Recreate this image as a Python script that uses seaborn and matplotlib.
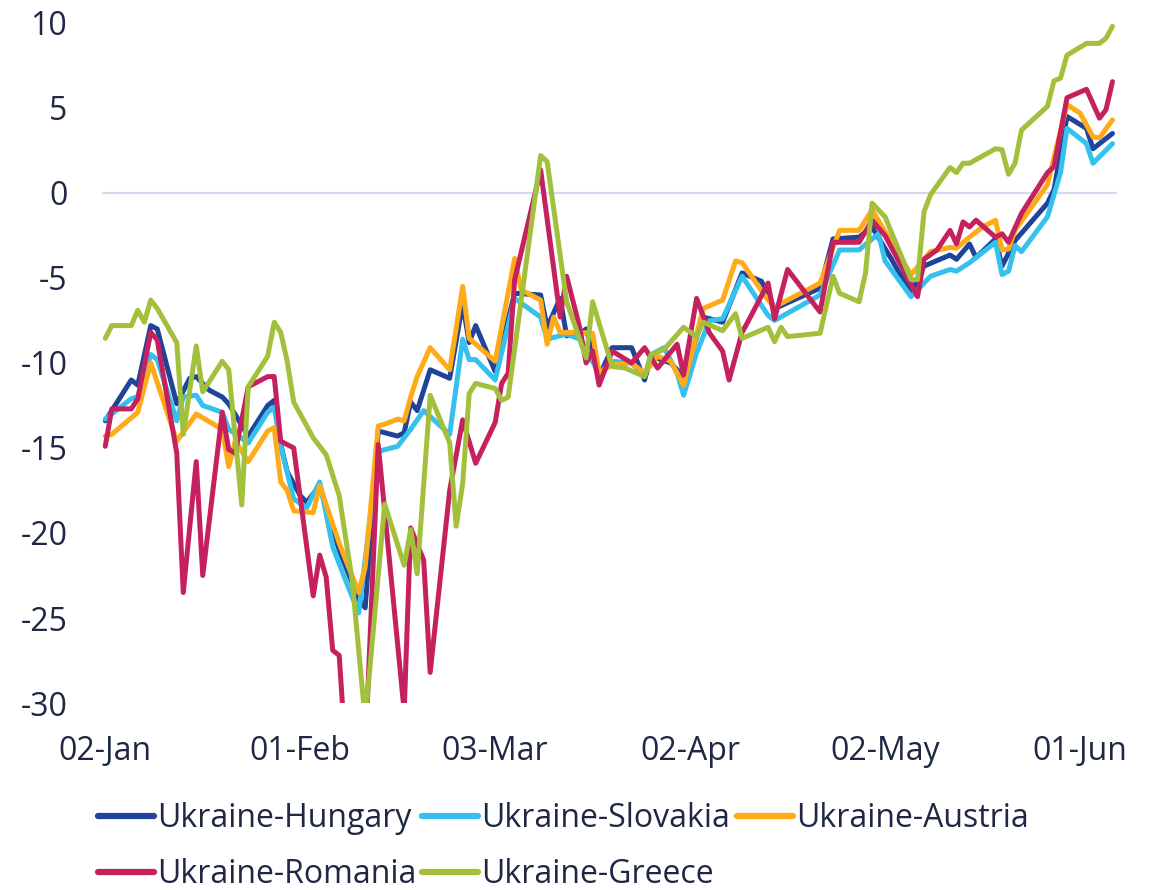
import matplotlib
matplotlib.use("Agg")
import matplotlib.pyplot as plt
import seaborn as sns
import pandas as pd

# ---------------- data (day offsets from 02-Jan-2023, values) ----------------
start_date = "2023-01-02"

hungary_days = [0, 4, 5, 7, 8, 11, 13, 14, 16, 18, 19, 22, 25, 26, 27, 28, 30, 31, 33, 36, 39, 40,
                42, 45, 46, 47, 48, 50, 53, 55, 56, 57, 60, 63, 67, 68, 70, 71, 73, 74, 76, 78, 81,
                83, 84, 87, 89, 92, 95, 98, 101, 103, 110, 112, 116, 118, 121, 124, 126, 130, 131,
                133, 134, 137, 138, 140, 145, 146, 148, 151, 152, 155]
hungary_vals = [-13.4, -11.0, -11.3, -7.8, -8.0, -12.4, -10.9, -10.8, -11.6, -12.0, -12.4, -14.3,
                -12.5, -12.2, -14.8, -16.4, -17.8, -18.2, -17.2, -21.0, -23.9, -24.4,
                -14.0, -14.3, -14.1, -12.3, -12.8, -10.4, -10.9, -6.5, -8.8, -7.8, -10.5, -5.9,
                -6.0, -7.9, -6.2, -8.4, -8.3, -8.0, -10.8, -9.1, -9.1,
                -11.0, -9.6, -10.0, -10.8, -7.3, -7.6, -4.7, -5.2, -6.8, -5.6, -2.7, -2.6, -2.0,
                -3.9, -5.9, -4.3, -3.65, -3.9,
                -3.0, -3.8, -2.7, -4.3, -2.8, -0.6, 0.2, 4.5, 3.8, 2.6, 3.5]

slovakia_days = [0, 4, 5, 7, 8, 11, 12, 14, 15, 18, 19, 22, 25, 26, 27, 29, 31, 33, 35, 37, 39,
                 42, 45, 47, 49, 53, 55, 56, 57, 60, 63, 67, 68, 71, 73, 76, 78, 81, 83, 84, 86,
                 88, 89, 91, 93, 95, 98, 102, 103, 110, 113, 116, 119, 120, 124, 127, 130, 131,
                 133, 137, 138, 139, 140, 141, 145, 147, 148, 151, 152, 155]
slovakia_vals = [-13.3, -12.1, -12.0, -9.5, -9.8, -13.4, -12.0, -11.9, -12.5, -12.9, -13.9, -14.7,
                 -12.9, -12.6, -14.9, -18.0, -18.5, -17.0, -20.8, -22.8, -24.7,
                 -15.2, -14.9, -13.9, -12.8, -14.2, -8.6, -9.8, -9.8, -11.0, -6.2, -7.3, -8.6,
                 -8.3, -8.6, -10.6, -9.9, -10.0, -10.8, -9.5, -9.1,
                 -10.6, -11.9, -9.4, -7.5, -7.4, -4.9, -7.2, -7.5, -6.0, -3.35, -3.35, -2.4, -4.0,
                 -6.1, -4.9, -4.5, -4.6,
                 -4.1, -2.9, -4.8, -4.6, -3.1, -3.45, -1.4, 1.2, 3.8, 2.9, 1.75, 2.9]

austria_days = [0, 1, 5, 7, 11, 14, 18, 19, 20, 22, 25, 26, 27, 28, 29, 32, 33, 36, 39, 40, 42,
                43, 45, 46, 47, 48, 50, 53, 55, 56, 60, 63, 64, 67, 68, 69, 70, 73, 75, 76, 78,
                81, 83, 85, 87, 89, 92, 95, 97, 98, 102, 103, 110, 113, 116, 118, 124, 127, 130,
                131, 133, 135, 137, 138, 139, 140, 145, 148, 150, 152, 153, 155]
austria_vals = [-14.3, -14.2, -12.9, -10.0, -14.6, -13.0, -13.9, -16.1, -14.6, -15.8, -14.0, -13.8,
                -17.0, -17.5, -18.7, -18.8, -17.2, -20.6, -23.5, -22.0, -13.7,
                -13.6, -13.3, -13.4, -12.0, -10.8, -9.1, -10.4, -5.5, -8.55, -9.9, -3.85, -5.7,
                -6.3, -8.9, -7.3, -8.2, -8.2, -8.25, -10.6, -10.1,
                -10.0, -10.6, -9.6, -9.9, -11.3, -6.8, -6.3, -4.0, -4.1, -6.3, -6.7, -5.3, -2.2,
                -2.2, -1.0, -4.8, -3.45, -3.2,
                -3.25, -2.6, -2.0, -1.6, -3.35, -3.3, -2.2, 0.5, 5.2, 4.7, 3.3, 3.25, 4.3]

romania_days = [0, 1, 4, 5, 7, 8, 11, 12, 14, 15, 18, 19, 20, 22, 25, 26, 27, 29, 32, 33, 34,
                35, 36, 37, 40, 42, 46, 47, 49, 50, 53, 55, 57, 60, 61, 62, 63, 67, 70, 71, 73,
                74, 75, 76, 78, 81, 83, 85, 88, 89, 91, 93, 95, 96, 98, 99, 102, 103, 105, 110,
                112, 116, 118, 120, 125, 126, 128, 130, 131, 132, 133, 134, 137, 138, 139, 141,
                145, 146, 148, 151, 153, 154, 155]
romania_vals = [-14.9, -12.7, -12.7, -12.1, -8.2, -8.65, -15.3, -23.5, -15.8, -22.5, -12.9, -15.1,
                -15.3, -11.4, -10.8, -10.8, -14.6, -15.0, -23.7, -21.3, -22.6,
                -26.9, -27.2, -33.0, -33.0, -14.8, -30.5, -19.7, -21.6, -28.2, -17.5, -13.35,
                -15.9, -13.5, -11.2, -10.6, -5.1, 1.35, -7.3, -4.9, -7.9,
                -10.0, -9.3, -11.3, -9.3, -10.0, -9.1, -10.3, -8.9, -10.7, -6.2, -8.25, -9.3,
                -11.0, -8.2, -7.5, -5.3, -7.4, -4.5, -7.0,
                -2.9, -2.9, -1.6, -2.5, -6.1, -3.9, -3.35, -2.2, -3.0, -1.7, -2.0, -1.6, -2.6,
                -2.4, -2.9, -1.2,
                1.2, 1.55, 5.6, 6.1, 4.4, 4.9, 6.55]

greece_days = [0, 1, 4, 5, 6, 7, 8, 11, 12, 14, 15, 18, 19, 21, 22, 25, 26, 27, 28, 29, 32, 34,
               36, 38, 40, 43, 46, 47, 48, 50, 53, 54, 55, 56, 57, 60, 61, 62, 67, 68, 71, 74,
               75, 78, 80, 83, 84, 86, 89, 91, 92, 95, 97, 98, 102, 103, 104, 105, 110, 112,
               113, 116, 117, 118, 120, 124, 125, 126, 127, 130, 131, 132, 133, 137, 138, 139,
               140, 141, 145, 146, 147, 148, 151, 153, 154, 155]
greece_vals = [-8.55, -7.8, -7.8, -6.9, -7.6, -6.3, -6.8, -8.8, -14.2, -9.0, -11.7, -9.9, -10.4,
               -18.35, -11.4, -9.6, -7.6, -8.2, -9.9, -12.3, -14.4, -15.4,
               -17.8, -22.8, -31.0, -18.3, -21.9, -19.8, -22.4, -11.9, -14.7, -19.6, -17.1, -11.8,
               -11.2, -11.5, -12.2, -12.0, 2.2, 1.85, -6.4, -9.7,
               -6.4, -10.2, -10.3, -10.8, -9.5, -9.2, -7.9, -8.45, -7.6, -8.1, -7.1, -8.55, -7.9,
               -8.75, -7.9, -8.45, -8.25, -4.9,
               -5.9, -6.4, -4.7, -0.6, -1.4, -5.1, -5.1, -1.1, -0.1, 1.5, 1.2, 1.75, 1.75, 2.6,
               2.55, 1.1,
               1.75, 3.7, 5.1, 6.6, 6.75, 8.1, 8.8, 8.8, 9.1, 9.8]

series_names = ["Ukraine-Hungary", "Ukraine-Slovakia", "Ukraine-Austria",
                "Ukraine-Romania", "Ukraine-Greece"]
series_days = [hungary_days, slovakia_days, austria_days, romania_days, greece_days]
series_vals = [hungary_vals, slovakia_vals, austria_vals, romania_vals, greece_vals]
series_colors = ["#20449a", "#35c0ee", "#ffab19", "#c5215f", "#a2c03c"]

x_tick_labels = ["02-Jan", "01-Feb", "03-Mar", "02-Apr", "02-May", "01-Jun"]
y_ticks = [-30, -25, -20, -15, -10, -5, 0, 5, 10]

# ---------------- build long-form table ----------------
base = pd.Timestamp(start_date)
frames = []
for name, d, v in zip(series_names, series_days, series_vals):
    frames.append(pd.DataFrame({"date": base + pd.to_timedelta(d, unit="D"),
                                "value": v, "series": name}))
df = pd.concat(frames, ignore_index=True)

# ---------------- style ----------------
sns.set_theme(style="white")
plt.rcParams["font.family"] = ["Open Sans", "DejaVu Sans"]
text_color = "#1f2744"
fs = 23

fig = plt.figure(figsize=(11.62, 8.9), dpi=100)
ax = fig.add_axes([0.0878, 0.2101, 0.8735, 0.7641])

ax.axhline(0, color="#d6d9ee", lw=1.6, zorder=1)

sns.lineplot(data=df, x="date", y="value", hue="series", hue_order=series_names,
             palette=dict(zip(series_names, series_colors)), estimator=None,
             linewidth=3.6, ax=ax, legend=True, zorder=3)

ax.set_ylim(-30, 10)
ax.set_xlim(base - pd.Timedelta(hours=12), base + pd.Timedelta(days=155.7))
ax.set_yticks(y_ticks)
ax.set_yticklabels([str(t) for t in y_ticks])
xt = [pd.to_datetime(f"{s}-2023", format="%d-%b-%Y") for s in x_tick_labels]
ax.set_xticks(xt)
ax.set_xticklabels(x_tick_labels)

for s in ax.spines.values():
    s.set_visible(False)
ax.grid(False)
ax.set_xlabel("")
ax.set_ylabel("")
ax.tick_params(axis="y", length=0, pad=25, labelsize=fs, labelcolor=text_color)
ax.tick_params(axis="x", length=0, pad=23, labelsize=fs, labelcolor=text_color)

handles, labels = ax.get_legend_handles_labels()
ax.get_legend().remove()
hmap = dict(zip(labels, handles))
order = ["Ukraine-Hungary", "Ukraine-Romania", "Ukraine-Slovakia",
         "Ukraine-Greece", "Ukraine-Austria"]
hs = []
for n in order:
    h = hmap[n]
    h.set_linewidth(4.5)
    hs.append(h)
leg = fig.legend(hs, order, loc="upper left", bbox_to_anchor=(0.084, 0.099),
                 ncol=3, frameon=False, fontsize=fs, handlelength=1.75,
                 handletextpad=0.1, columnspacing=0.2, labelspacing=0.72,
                 borderpad=0, borderaxespad=0)
for t in leg.get_texts():
    t.set_color(text_color)

fig.savefig("out.png", dpi=100)
